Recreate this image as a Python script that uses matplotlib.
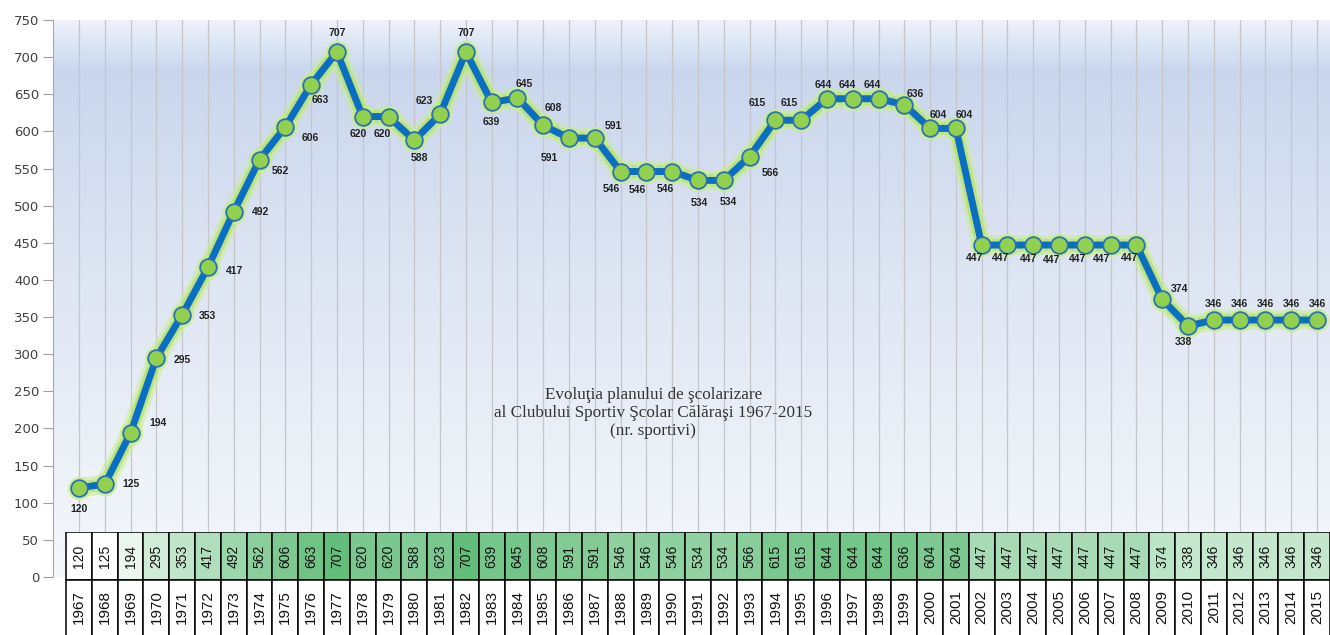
import numpy as np
import matplotlib
matplotlib.use("Agg")
import matplotlib.pyplot as plt
from matplotlib.patches import Rectangle

years = list(range(1967, 2016))
sportivi = [120, 125, 194, 295, 353, 417, 492, 562, 606, 663,
            707, 620, 620, 588, 623, 707, 639, 645, 608, 591,
            591, 546, 546, 546, 534, 534, 566, 615, 615, 644,
            644, 644, 636, 604, 604, 447, 447, 447, 447, 447,
            447, 447, 374, 338, 346, 346, 346, 346, 346]
y_ticks = list(range(0, 751, 50))
title = ("Evoluţia planului de şcolarizare\n"
         "al Clubului Sportiv Şcolar Călăraşi 1967-2015\n"
         "(nr. sportivi)")

# label offsets in pixels (dx, dy up), one per point
label_offsets = [(0, -21), (26, 0), (27, 10), (26, -2), (25, -1), (27, -4), (27, 0),
                 (21, -11), (25, -11), (9, -15), (0, 19), (-4, -17), (-6, -17),
                 (5, -18), (-16, 13), (0, 19), (0, -20), (7, 14), (10, 17),
                 (-20, -20), (18, 12), (-9, -17), (-9, -18), (-7, -17), (1, -23),
                 (5, -22), (21, -16), (-18, 17), (-12, 17), (-4, 14), (-6, 14),
                 (-6, 14), (11, 11), (8, 13), (8, 13), (-7, -13), (-7, -13),
                 (-5, -14), (-8, -15), (-7, -14), (-9, -14), (-7, -13), (17, 10),
                 (-5, -16), (0, 16), (0, 16), (0, 16), (0, 16), (0, 16)]

W, H = 1330, 635
fig = plt.figure(figsize=(W / 100, H / 100), dpi=100)
PX = 72 / 100  # pixels -> points

x_left = years[0] - 26 / 25.79
x_right = years[-1] + 13 / 25.79
ax = fig.add_axes([53 / W, (H - 577) / H, 1 - 53 / W, 557 / H])
ax.set_xlim(x_left, x_right)
ax.set_ylim(0, 750)

# background gradient
stops_y = [0.0, 0.04, 0.09, 0.4, 0.75, 1.0]
stops_c = [(0.94, 0.95, 0.98), (0.86, 0.90, 0.96), (0.79, 0.84, 0.93),
           (0.86, 0.89, 0.95), (0.92, 0.94, 0.97), (0.96, 0.97, 0.99)]
t = np.linspace(0, 1, 300)
grad = np.stack([np.interp(t, stops_y, [c[i] for c in stops_c]) for i in range(3)], axis=1)
ax.imshow(grad[:, None, :], extent=[x_left, x_right, 0, 750], aspect="auto",
          zorder=0, interpolation="bilinear")

for yr in years:
    ax.axvline(yr, color="#c4c6cc", lw=0.9, zorder=1)

# glow + line + markers
ax.plot(years, sportivi, color="#c8ee88", lw=14, alpha=0.5, solid_capstyle="round",
        solid_joinstyle="round", zorder=2)
ax.plot(years, sportivi, color="#b2e26a", lw=9, alpha=0.75, solid_capstyle="round",
        solid_joinstyle="round", zorder=2)
ax.plot(years, sportivi, "o", color="#c8ee88", ms=17, alpha=0.7, mew=0, zorder=2)
ax.plot(years, sportivi, color="#0a6fc2", lw=5, solid_joinstyle="round", zorder=3)
ax.plot(years, sportivi, "o", ms=12, mfc="#92d050", mec="#2a72b5", mew=1.3, zorder=4)

for yr, v, (dx, dy) in zip(years, sportivi, label_offsets):
    ax.annotate(str(v), (yr, v), xytext=(dx * PX, dy * PX), textcoords="offset points",
                ha="center", va="center", fontsize=7.5, fontweight="bold",
                family="Liberation Sans", color="#222222", zorder=5)

ax.text(0.47, 0.294, title, transform=ax.transAxes, ha="center", va="center",
        family="Liberation Serif", fontsize=12.3, color="#333333", linespacing=1.15)

ax.set_yticks(y_ticks)
ax.tick_params(axis="y", length=7, color="#a0a0a0", labelsize=9.5, labelcolor="#404040", pad=3)
ax.set_xticks([])
for side in ("top", "right", "bottom"):
    ax.spines[side].set_visible(False)
ax.spines["left"].set_color("#a8a8a8")

# data table under the chart
ax_t = fig.add_axes([53 / W, 0, 1 - 53 / W, 103 / H], sharex=ax)
ax_t.set_ylim(0, 103)
ax_t.axis("off")
vmin, vmax = min(sportivi), max(sportivi)
green = np.array([99, 190, 123]) / 255
for yr, v in zip(years, sportivi):
    f = (v - vmin) / (vmax - vmin)
    col = 1 - f * (1 - green)
    ax_t.add_patch(Rectangle((yr - 0.5, 55), 1, 48, facecolor=col, edgecolor="black", lw=1.1))
    ax_t.add_patch(Rectangle((yr - 0.5, -5), 1, 60, facecolor="white", edgecolor="black", lw=1.1))
    ax_t.text(yr, 79, str(v), rotation=90, ha="center", va="center", fontsize=10,
              family="Liberation Sans", color="#111111")
    ax_t.text(yr, 28, str(yr), rotation=90, ha="center", va="center", fontsize=11,
              family="Liberation Sans", color="#111111")

fig.savefig("out.png", dpi=100)
